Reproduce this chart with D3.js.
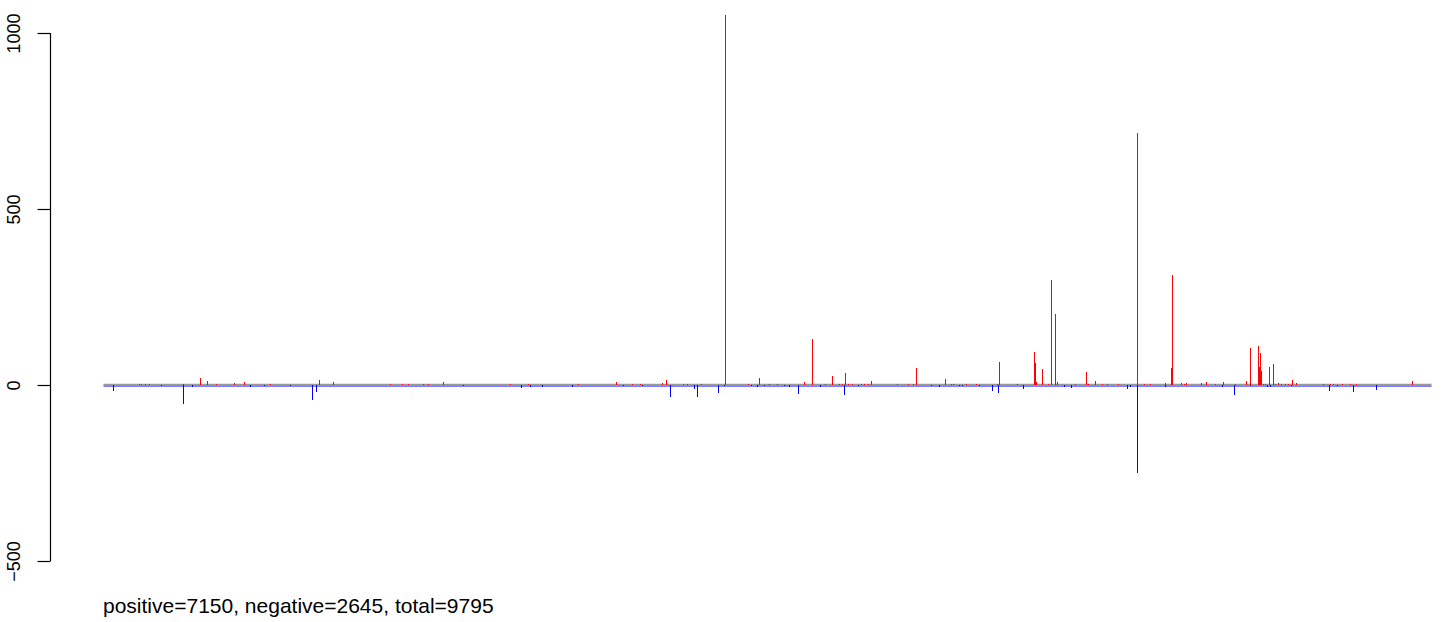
<!DOCTYPE html>
<html><head><meta charset="utf-8">
<script src="https://cdn.jsdelivr.net/npm/d3@7"></script>
<style>body{margin:0;background:#fff}svg{display:block}text{font-family:"Liberation Sans",Arial,sans-serif}</style>
</head><body>
<svg id="c" width="1444" height="622"></svg>
<script>
const nTotal = 9795;
const yTicks = [-500, 0, 500, 1000];
const footer = "positive=7150, negative=2645, total=9795";
// positive spikes: sample index, value
const posIdx = [260,280,310,339,584,710,761,833,960,1034,1231,1587,1697,2115,2201,2248,2356,2397,2506,3000,3130,3503,3783,3899,3958,4122,4152,4277,4302,4405,4586,4756,4837,4911,4965,5169,5228,5319,5375,5422,5444,5471,5491,5520,5584,5609,5640,5662,5850,5935,5972,5994,6208,6250,6267,6365,6439,6587,6606,6738,6864,6871,6878,6923,6970,6992,7018,7033,7169,7247,7259,7313,7365,7405,7483,7623,7675,7719,7827,7873,7881,7950,7969,7987,8097,8131,8195,8257,8348,8426,8456,8515,8522,8530,8537,8549,8564,8596,8625,8638,8660,8682,8711,8734,8765,8795,8994,9043,9067,9134,9193,9235,9649];
const posVal = [3,3,3,3,2,20,11,3,5,8,3,14,8,3,3,3,3,3,8,3,3,3,8,3,3,6,14,3,3,3,1051,3,20,3,3,9,131,3,26,4,4,34,3,3,3,3,3,11,3,3,4,48,17,3,3,3,3,3,65,3,94,63,9,45,4,298,202,8,3,37,3,11,3,3,3,716,3,3,6,49,312,5,3,5,5,8,3,8,3,12,106,112,52,92,41,4,4,52,60,4,5,4,4,4,14,6,3,3,3,3,3,3,11];
// negative spikes: sample index, value
const negIdx = [69,422,584,654,1078,1181,1380,1535,1565,2651,3083,3149,3238,3459,3835,3975,4181,4358,4380,4535,4579,4774,4822,4874,5021,5058,5124,5287,5463,5562,6105,6164,6311,6333,6458,6550,6598,6783,7085,7136,7552,7571,7623,7829,8249,8338,8456,8581,8603,8758,9038,9100,9215,9384];
const negVal = [-16,-2,-53,-5,-6,-3,-3,-42,-19,-3,-8,-5,-6,-6,-3,-3,-33,-11,-33,-23,-3,-3,-5,-3,-3,-6,-25,-5,-28,-4,-4,-5,-4,-4,-4,-16,-22,-10,-7,-9,-10,-6,-249,-7,-5,-28,-4,-6,-6,-4,-16,-4,-19,-13];

const svg = d3.select("#c");
const x = d3.scaleLinear().domain([1, nTotal]).range([103.5, 1431.5]);
const y = d3.scaleLinear().domain([-500, 1000]).range([561, 33]);
const px = v => Math.round(x(v)) + 0.5;

// y axis
const ax = svg.append("g").attr("transform","translate(50.5,0)")
  .call(d3.axisLeft(y).tickValues(yTicks).tickSize(13).tickSizeOuter(0).tickFormat(d => d < 0 ? "\u2212" + Math.abs(d) : d));
ax.select(".domain").attr("stroke","#000").attr("stroke-width",1.2).attr("d","M0," + y(-500) + "V" + y(1000));
ax.selectAll(".tick line").attr("stroke","#000").attr("stroke-width",1.2);
ax.selectAll(".tick text").attr("font-size",18).attr("fill","#000")
  .attr("transform", "translate(-31,0) rotate(-90)")
  .attr("x", 0).attr("y", 0).attr("dy", 0).attr("text-anchor","middle");

// baseline
svg.append("line").attr("x1", x(1)).attr("x2", x(nTotal)).attr("y1", y(0) + 1).attr("y2", y(0) + 1)
  .attr("stroke","#0000ff").attr("stroke-width",1);
svg.append("line").attr("x1", x(1)).attr("x2", x(nTotal)).attr("y1", y(0) - 0.4).attr("y2", y(0) - 0.4)
  .attr("stroke","#9a9a9a").attr("stroke-width",1.6);

const pos = posIdx.map((d,i) => ({i:d, v:posVal[i]}));
const neg = negIdx.map((d,i) => ({i:d, v:negVal[i]}));
svg.append("g").attr("shape-rendering","crispEdges").selectAll("line").data(neg).join("line")
  .attr("x1", d => px(d.i)).attr("x2", d => px(d.i))
  .attr("y1", y(0)).attr("y2", d => y(d.v))
  .attr("stroke","#0000ff").attr("stroke-width",1);
svg.append("g").attr("shape-rendering","crispEdges").selectAll("line").data(pos).join("line")
  .attr("x1", d => px(d.i)).attr("x2", d => px(d.i))
  .attr("y1", y(0)).attr("y2", d => y(d.v))
  .attr("stroke","#ff0000").attr("stroke-width",1);

svg.append("text").attr("x",103).attr("y",613).attr("font-size",21).attr("fill","#000").text(footer);
</script>
</body></html>
